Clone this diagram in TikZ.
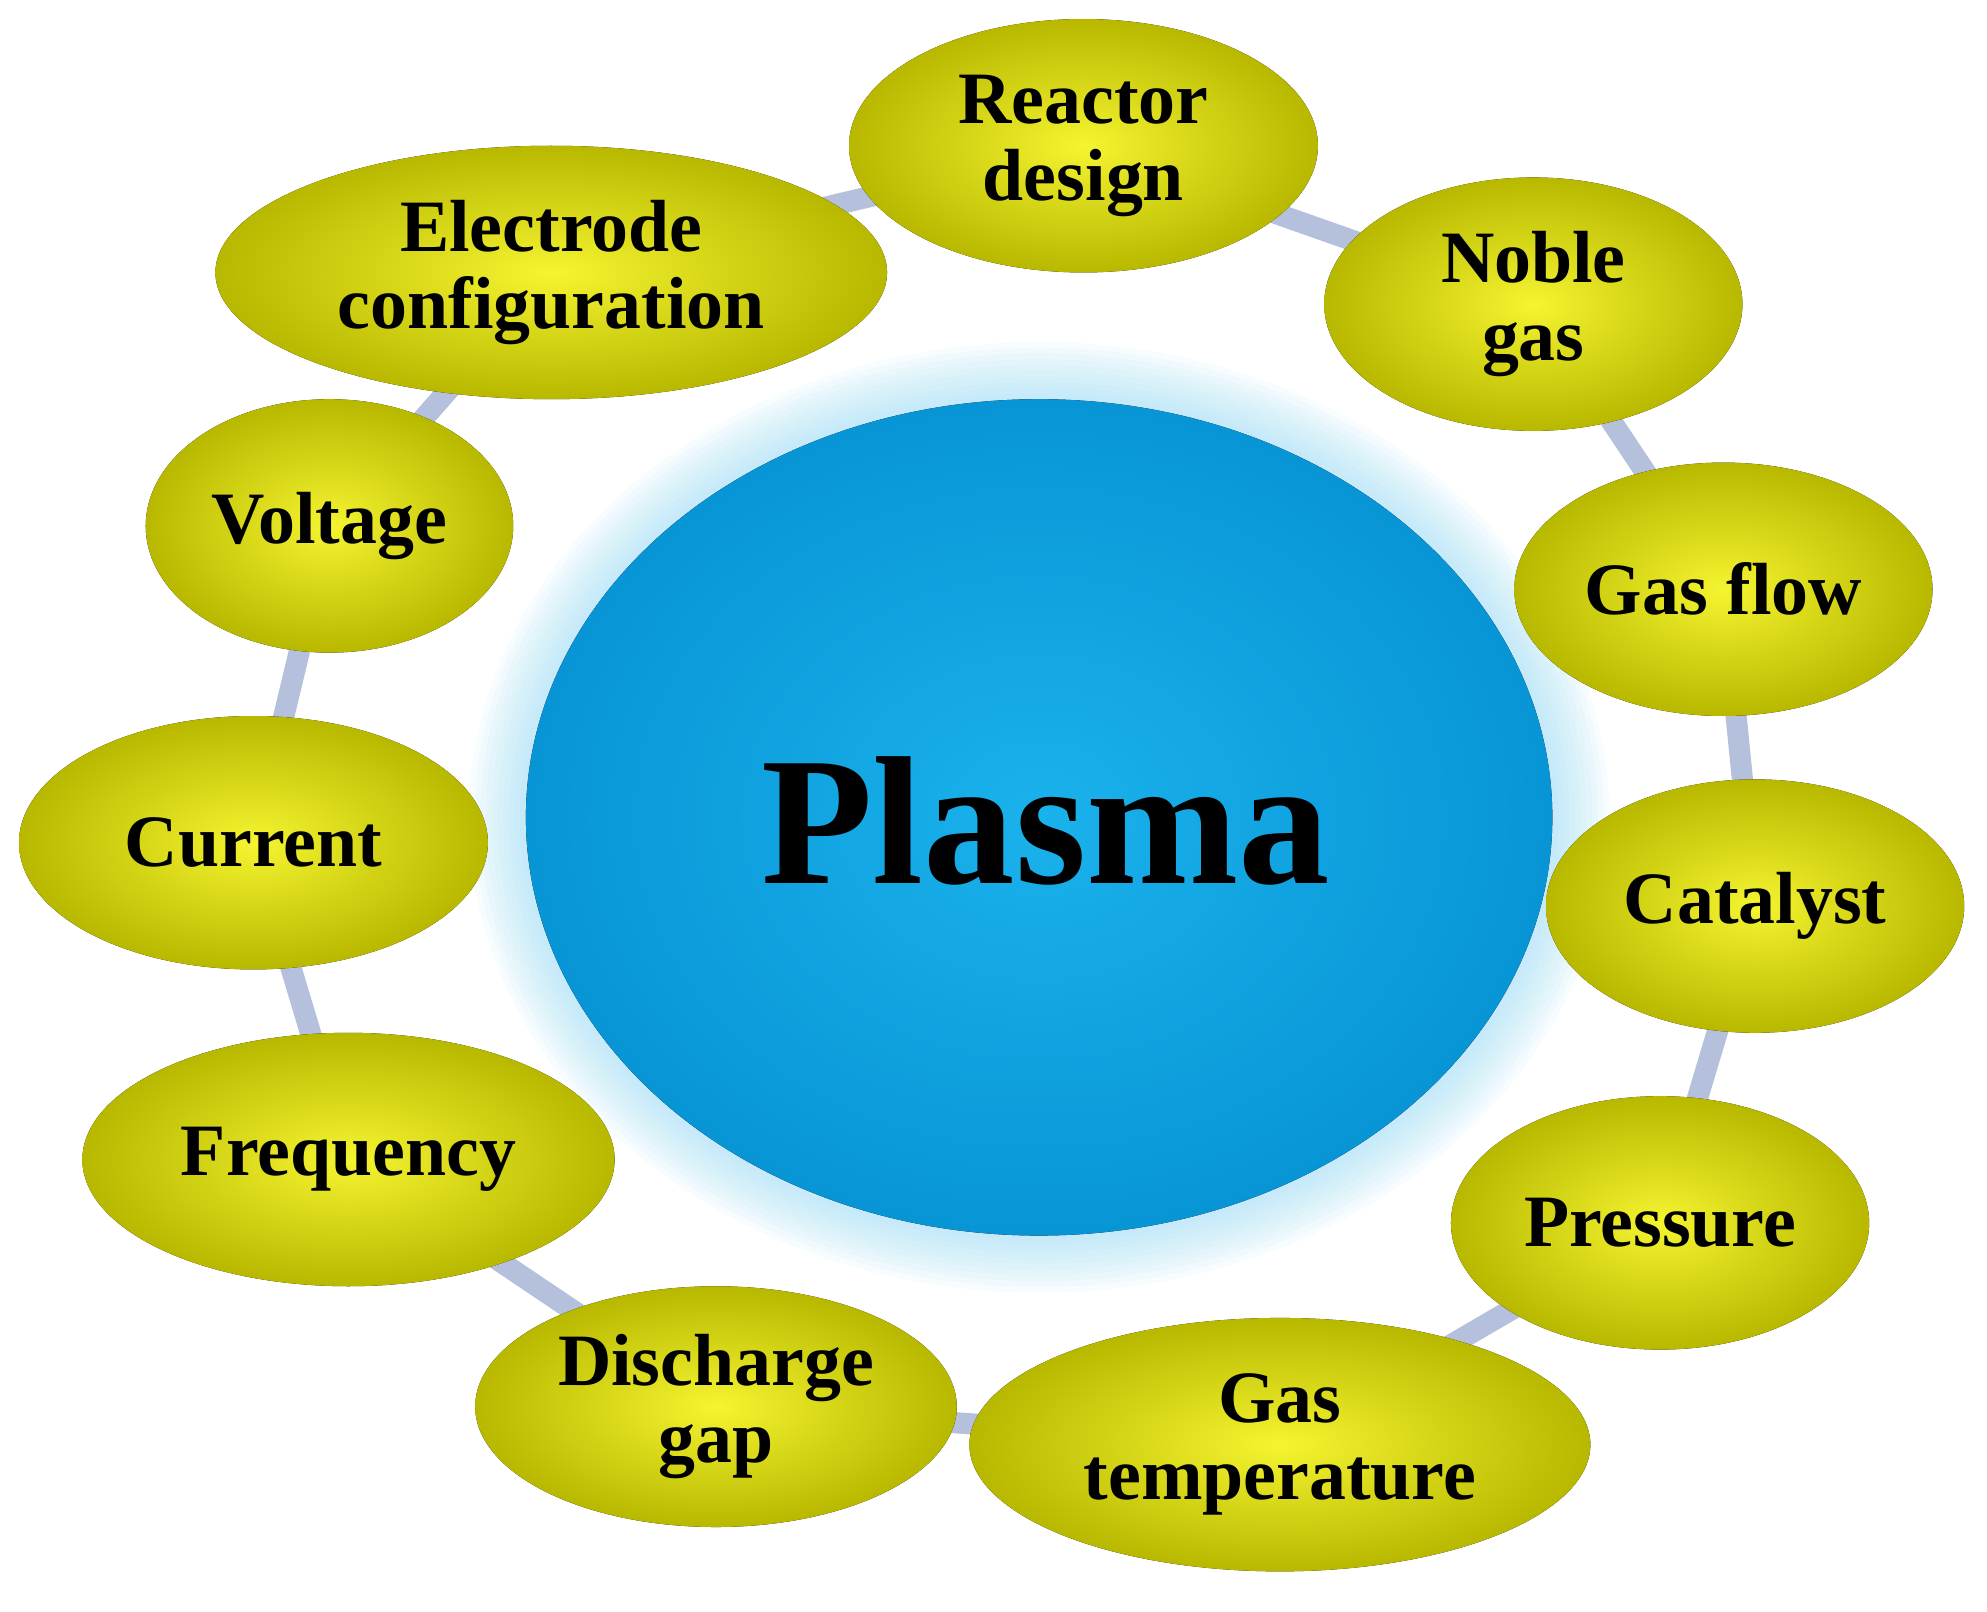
\documentclass[tikz,border=0pt]{standalone}
\usepackage{fontspec}
\setmainfont{Liberation Serif}
\definecolor{yel}{HTML}{D8D800}
\definecolor{yelc}{HTML}{F4F430}
\definecolor{yeld}{HTML}{B8B800}
\definecolor{plc}{HTML}{1AB2EC}
\definecolor{pld}{HTML}{0895D6}
\definecolor{lnk}{HTML}{B4C0DC}
\begin{document}
\begin{tikzpicture}[x=0.01267cm,y=-0.01267cm,
  link/.style={line width=6pt,color=lnk},
  lab/.style={align=center,font=\fontsize{21}{22}\selectfont\bfseries}]
\useasboundingbox (0,0) rectangle (1568,1272);
\fill[white] (0,0) rectangle (1568,1272);
\foreach \i in {0,...,9}
  \fill[cyan!40,opacity=0.07] (820,645) ellipse ({405+45-4.5*\i} and {330+45-4.5*\i});
\coordinate (cR) at (855,115); \coordinate (cE) at (435,215); \coordinate (cN) at (1210,240);
\coordinate (cV) at (260,415); \coordinate (cG) at (1360,465); \coordinate (cC) at (200,665);
\coordinate (cK) at (1385,715); \coordinate (cF) at (275,915); \coordinate (cP) at (1310,965);
\coordinate (cD) at (565,1110); \coordinate (cT) at (1010,1140);
\draw[link] (cR)--(cE); \draw[link] (cR)--(cN); \draw[link] (cN)--(cG);
\draw[link] (cG)--(cK); \draw[link] (cK)--(cP); \draw[link] (cP)--(cT);
\draw[link] (cT)--(cD); \draw[link] (cD)--(cF); \draw[link] (cF)--(cC);
\draw[link] (cC)--(cV); \draw[link] (cV)--(cE);
\fill[inner color=plc,outer color=pld] (820,645) ellipse (405 and 330);
\node[font=\fontsize{52}{56}\selectfont\bfseries] (plasma) at (825,648) {Plasma};
\newcommand{\ellnode}[6]{\fill[inner color=yelc,outer color=yeld] (#1,#2) ellipse (#3 and #4);
  \node[lab] (#5) at (#1,#2) {#6};}
\ellnode{855}{115}{185}{100}{reactor}{Reactor\\design}
\ellnode{435}{215}{265}{100}{electrode}{Electrode\\configuration}
\ellnode{1210}{240}{165}{100}{noble}{Noble\\gas}
\ellnode{260}{415}{145}{100}{voltage}{Voltage}
\ellnode{1360}{465}{165}{100}{gasflow}{Gas flow}
\ellnode{200}{665}{185}{100}{current}{Current}
\ellnode{1385}{715}{165}{100}{catalyst}{Catalyst}
\ellnode{275}{915}{210}{100}{freq}{Frequency}
\ellnode{1310}{965}{165}{100}{pressure}{Pressure}
\ellnode{565}{1110}{190}{95}{gap}{Discharge\\gap}
\ellnode{1010}{1140}{245}{100}{temp}{Gas\\temperature}
\end{tikzpicture}
\end{document}
